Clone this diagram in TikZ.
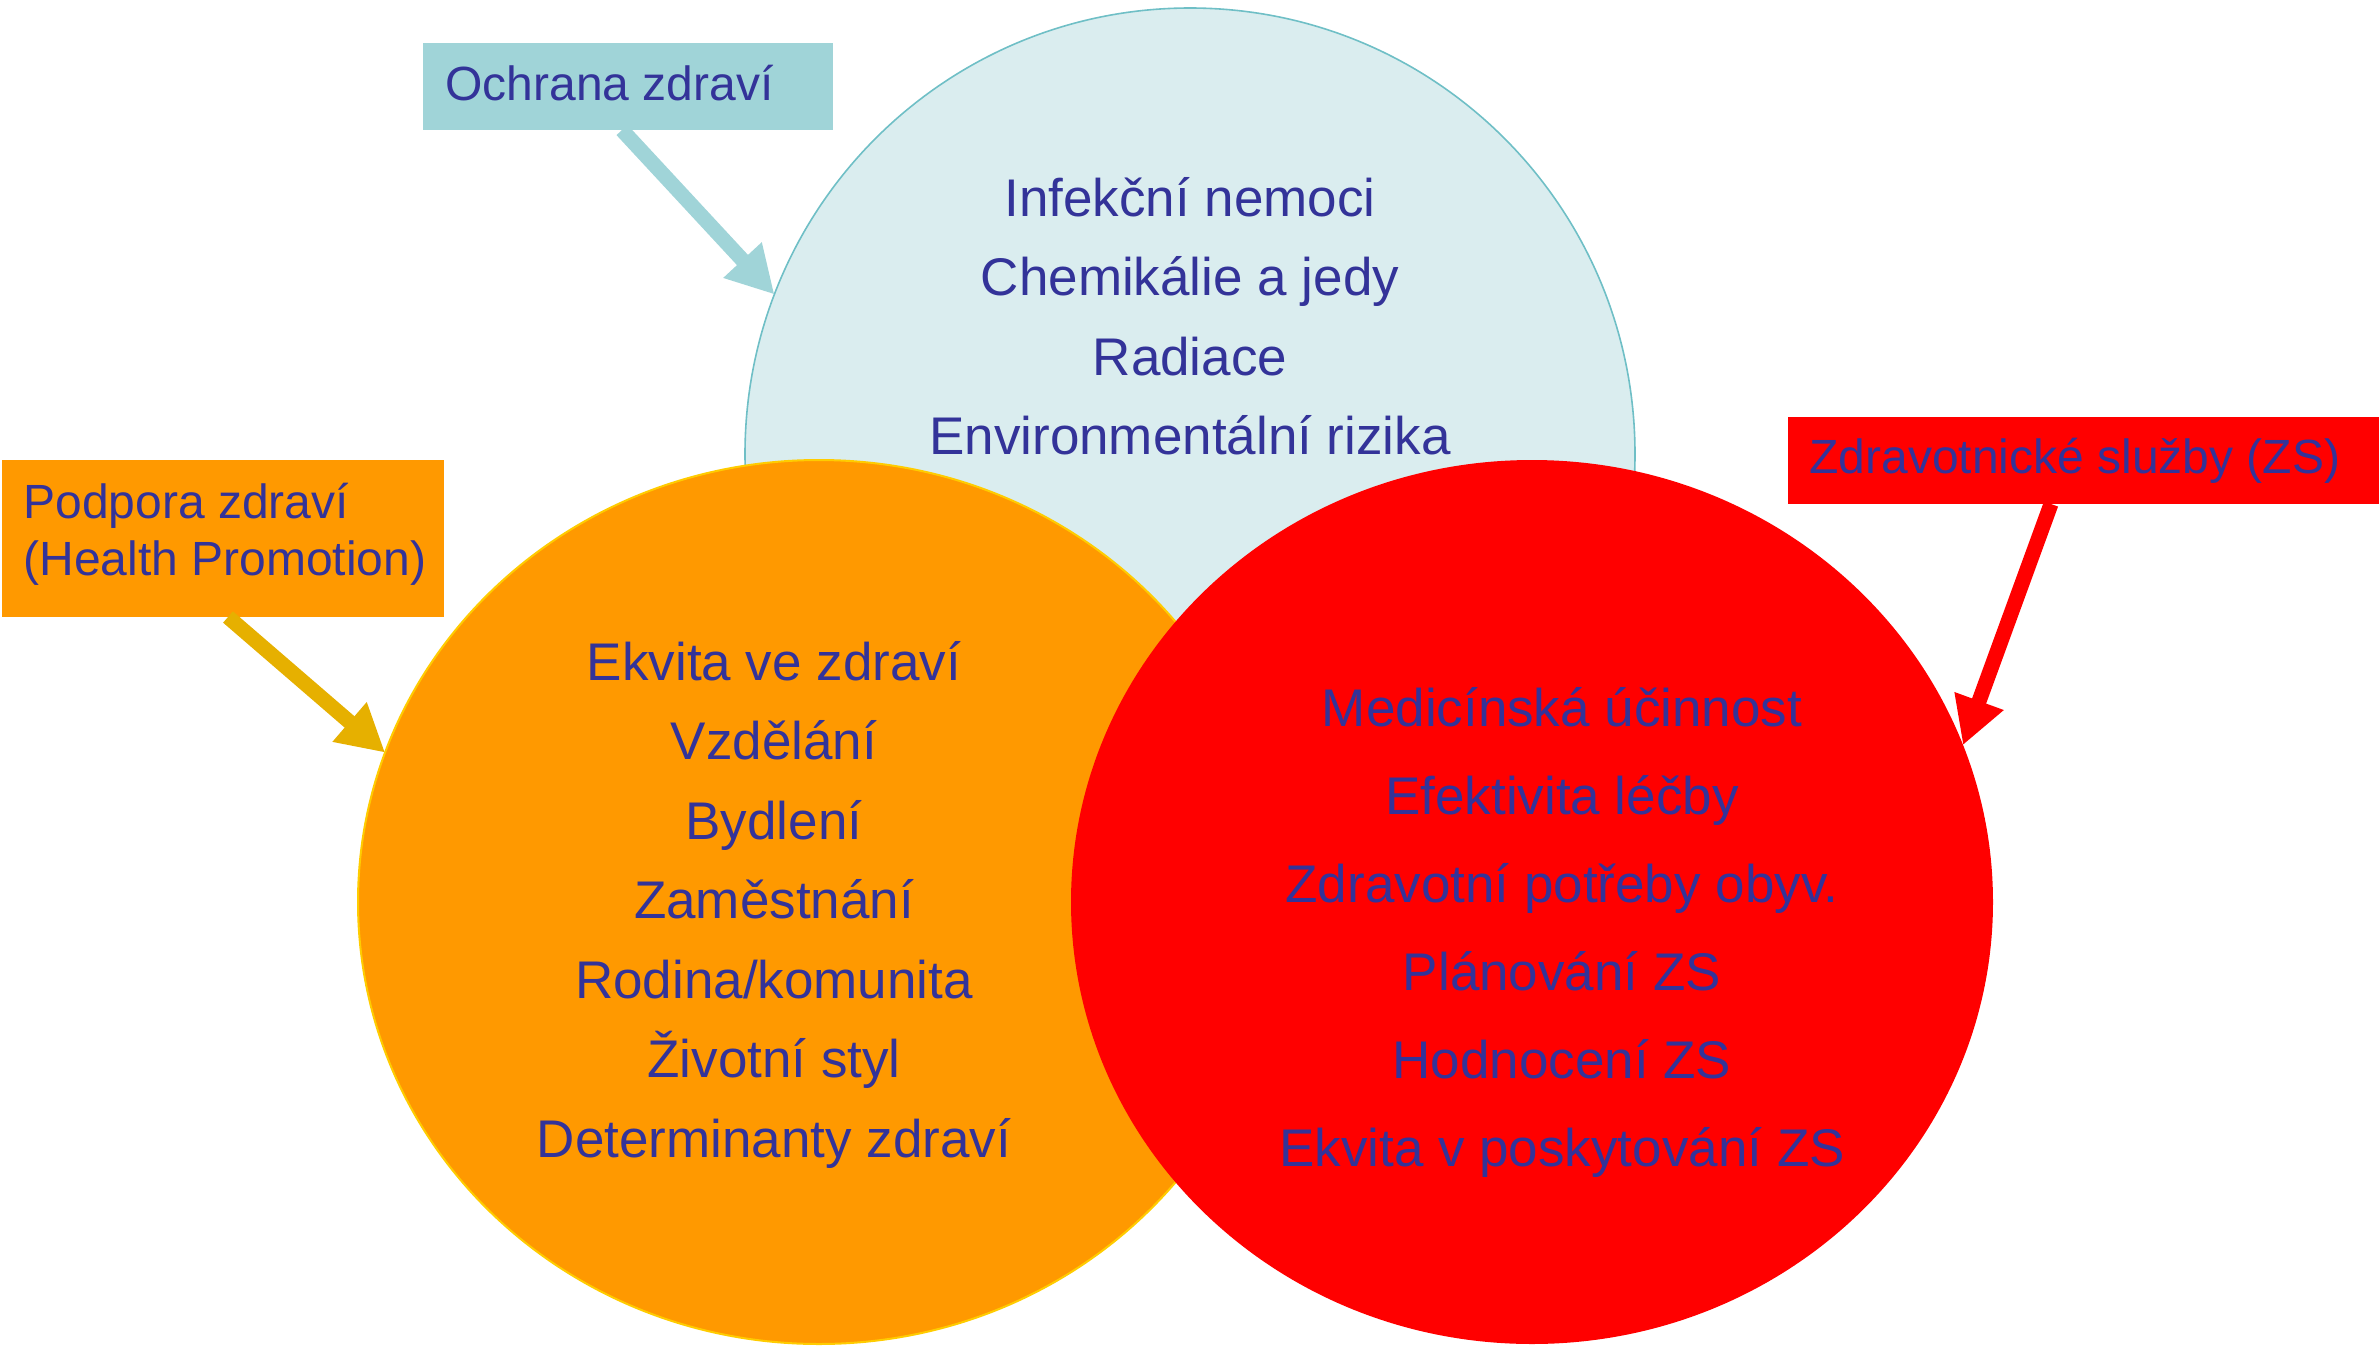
\documentclass[tikz,border=0pt]{standalone}
\usepackage{fontspec}
\setmainfont{Liberation Sans}
\usetikzlibrary{shapes.geometric,arrows.meta}
\definecolor{ink}{HTML}{333399}
\definecolor{protfill}{HTML}{DAEDEF}
\definecolor{protline}{HTML}{6FBFC6}
\definecolor{protlabel}{HTML}{A0D4D8}
\definecolor{promo}{HTML}{FF9900}
\definecolor{promoline}{HTML}{FFCC00}
\definecolor{promoarrow}{HTML}{E6B000}
\definecolor{serv}{HTML}{FF0000}
\begin{document}
\begin{tikzpicture}[x=0.5pt,y=-0.5pt,
  zone/.style={ellipse, inner sep=0pt, outer sep=0pt},
  item/.style={anchor=base, inner sep=0pt, text=ink, font=\fontsize{26.5}{32}\selectfont},
  tag/.style={anchor=north west, inner sep=0pt, outer sep=0pt},
  tagtext/.style={anchor=base west, inner sep=0pt, text=ink, font=\fontsize{24}{28.5}\selectfont},
  pointer/.style={line width=7.5pt, -{Triangle[length=23.5pt,width=24.5pt]}}]
\useasboundingbox (0,0) rectangle (2379,1345);

% the three overlapping areas of public health
\node[zone, fill=protfill, draw=protline, line width=0.8pt,
      minimum width=445pt, minimum height=446pt] (prot) at (1190,454) {};
\node[zone, fill=promo, draw=promoline, line width=1pt,
      minimum width=461pt, minimum height=442pt] (promo) at (819,902) {};
\node[zone, fill=serv, minimum width=461pt, minimum height=442pt] (serv) at (1532,902) {};

% contents of each area
\foreach \t [count=\i] in {Infekční nemoci, Chemikálie a jedy, Radiace, Environmentální rizika}
  \node[item] (prot\i) at (1190,{216+(\i-1)*79.6}) {\t};
\foreach \t [count=\i] in {Ekvita ve zdraví, Vzdělání, Bydlení, Zaměstnání,
                           Rodina/komunita, Životní styl, Determinanty zdraví}
  \node[item] (promo\i) at (774,{680+(\i-1)*79.5}) {\t};
\foreach \t [count=\i] in {Medicínská účinnost, Efektivita léčby, Zdravotní potřeby obyv.,
                           Plánování ZS, Hodnocení ZS, Ekvita v poskytování ZS}
  \node[item] (serv\i) at (1562,{726+(\i-1)*88}) {\t};

% labels
\node[tag, fill=protlabel, minimum width=205pt, minimum height=43.5pt] (protbox) at (423,43) {};
\node[tagtext] (protlab) at (445,100) {Ochrana zdraví};

\node[tag, fill=promo, minimum width=221pt, minimum height=78.5pt] (promobox) at (2,460) {};
\node[tagtext] (promolab1) at (23,518) {Podpora zdraví};
\node[tagtext] (promolab2) at (23,575) {(Health Promotion)};

\node[tag, fill=serv, minimum width=295.5pt, minimum height=43.5pt] (servbox) at (1788,417) {};
\node[tagtext] (servlab) at (1809,473) {Zdravotnické služby (ZS)};

% pointers from labels to areas
\draw[pointer, protlabel] ([xshift=-3pt]protbox.south) -- (prot.159.2);
\draw[pointer, promoarrow] ([xshift=2.5pt]promobox.south) -- (promo.161.7);
\draw[pointer, serv] ([xshift=131.5pt]servbox.south west) -- (serv.20.7);
\end{tikzpicture}
\end{document}
